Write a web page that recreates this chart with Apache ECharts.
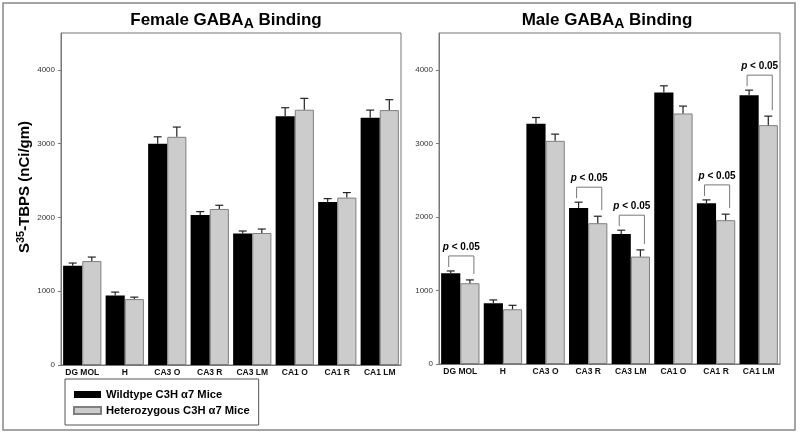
<!DOCTYPE html>
<html>
<head>
<meta charset="utf-8">
<script src="https://cdn.jsdelivr.net/npm/echarts@6/dist/echarts.min.js"></script>
<style>html,body{margin:0;padding:0;background:#fff}#c{width:800px;height:435px}</style>
</head>
<body>
<div id="c"></div>
<script>
const categories = ['DG MOL','H','CA3 O','CA3 R','CA3 LM','CA1 O','CA1 R','CA1 LM'];
const yTicks = [0, 1000, 2000, 3000, 4000];
const seriesNames = ['Wildtype C3H \u03b17 Mice', 'Heterozygous C3H \u03b17 Mice'];
// Female
const femaleWT     = [1345, 942, 2998, 2033, 1784, 3370, 2210, 3351];
const femaleWTErr  = [37, 46, 95, 46, 32, 117, 45, 104];
const femaleHet    = [1409, 893, 3093, 2115, 1789, 3460, 2269, 3455];
const femaleHetErr = [54, 27, 132, 50, 54, 154, 68, 141];
// Male
const maleWT       = [1234, 826, 3265, 2122, 1769, 3691, 2186, 3655];
const maleWTErr    = [31, 45, 86, 78, 50, 91, 45, 68];
const maleHet      = [1098, 744, 3034, 1914, 1460, 3406, 1955, 3247];
const maleHetErr   = [45, 54, 91, 95, 91, 100, 82, 123];
const maleSignificant = [0, 3, 4, 6, 7];

const FONT = '"Liberation Sans", Arial, sans-serif';
const chart = echarts.init(document.getElementById('c'), null, {renderer: 'canvas'});

function errRows(wt, wtE, het, hetE) {
  return categories.map((c, i) => [i, wt[i], wt[i] + wtE[i], het[i], het[i] + hetE[i]]);
}
function barGeom(api, i) {
  const c = api.coord([i, 0]);
  const cw = api.size([1, 0])[0];
  const bw = cw * 0.9 / 2;
  return {cx: c[0], xb: c[0] - bw / 2, xg: c[0] + bw / 2};
}
function errRender(params, api) {
  const i = api.value(0);
  const g = barGeom(api, i);
  const yb0 = api.coord([i, api.value(1)])[1];
  const yb1 = api.coord([i, api.value(2)])[1];
  const yg0 = api.coord([i, api.value(3)])[1];
  const yg1 = api.coord([i, api.value(4)])[1];
  const st = {stroke: '#222', lineWidth: 1.2};
  const L = (x1, y1, x2, y2) => ({type: 'line', shape: {x1, y1, x2, y2}, style: st});
  return {type: 'group', children: [
    L(g.xb, yb0, g.xb, yb1), L(g.xb - 4, yb1, g.xb + 4, yb1),
    L(g.xg, yg0, g.xg, yg1), L(g.xg - 4, yg1, g.xg + 4, yg1)
  ]};
}
function sigRender(params, api) {
  const i = api.value(0);
  const g = barGeom(api, i);
  const yb1 = api.coord([i, api.value(1)])[1];
  const yg1 = api.coord([i, api.value(2)])[1];
  const yTop = yb1 - 15;
  const st = {stroke: '#777', lineWidth: 1};
  const xl = g.xb - 2, xr = g.xg + 4;
  return {type: 'group', children: [
    {type: 'polyline', shape: {points: [[xl, yb1 - 4], [xl, yTop], [xr, yTop], [xr, yg1 - 6]]}, style: Object.assign({fill: null}, st)},
    {type: 'text', x: g.cx + 1, y: yTop - 9, style: {
      text: '{i|p}{b| < 0.05}', align: 'center', verticalAlign: 'middle',
      rich: {
        i: {fontStyle: 'italic', fontWeight: 'bold', fontSize: 10, fontFamily: FONT, fill: '#000'},
        b: {fontWeight: 'bold', fontSize: 10, fontFamily: FONT, fill: '#000'}
      }
    }}
  ]};
}

const grids = [
  {left: 61, right: 399, top: 33, bottom: 70},
  {left: 439, right: 20, top: 33, bottom: 71}
];
const xAxes = grids.map((g, k) => ({
  type: 'category', gridIndex: k, data: categories,
  axisLine: {lineStyle: {color: '#777', width: 1}},
  axisTick: {show: false},
  axisLabel: {fontSize: 8.5, fontWeight: 'bold', color: '#111', fontFamily: FONT, margin: 3, interval: 0}
}));
const yAxes = grids.map((g, k) => ({
  type: 'value', gridIndex: k, min: yTicks[0], max: 4500, interval: 1000,
  axisLine: {show: true, lineStyle: {color: '#777'}},
  axisTick: {show: true, length: 3, lineStyle: {color: '#777'}},
  splitLine: {show: false},
  axisLabel: {fontSize: 8, color: '#333', fontFamily: FONT, margin: 6, showMaxLabel: false,
    formatter: v => (yTicks.indexOf(v) >= 0 ? String(v) : '')}
}));

const blackStyle = {color: '#000000'};
const grayStyle = {color: '#cccccc', borderColor: '#7f7f7f', borderWidth: 1};

function barSeries(k, wt, het) {
  return [
    {name: seriesNames[0], type: 'bar', xAxisIndex: k, yAxisIndex: k, data: wt,
     barGap: '0%', barCategoryGap: '10%', itemStyle: blackStyle, emphasis: {disabled: true}},
    {name: seriesNames[1], type: 'bar', xAxisIndex: k, yAxisIndex: k, data: het,
     barGap: '0%', barCategoryGap: '10%', itemStyle: grayStyle, emphasis: {disabled: true}}
  ];
}

const option = {
  animation: false,
  backgroundColor: '#ffffff',
  textStyle: {fontFamily: FONT},
  grid: grids.map(g => Object.assign({show: true, borderColor: '#777', borderWidth: 1, backgroundColor: 'transparent'}, g)),
  xAxis: xAxes,
  yAxis: yAxes,
  legend: {
    data: seriesNames, orient: 'vertical', left: 65, top: 379,
    itemWidth: 27, itemHeight: 7, itemGap: 5, icon: 'rect',
    padding: [10, 9, 9, 8], borderColor: '#555', borderWidth: 1,
    textStyle: {fontSize: 11.2, fontWeight: 'bold', color: '#000', fontFamily: FONT},
    selectedMode: false
  },
  series: [
    ...barSeries(0, femaleWT, femaleHet),
    ...barSeries(1, maleWT, maleHet),
    {type: 'custom', xAxisIndex: 0, yAxisIndex: 0, renderItem: errRender, z: 5,
     data: errRows(femaleWT, femaleWTErr, femaleHet, femaleHetErr), encode: {x: 0, y: [1, 2, 3, 4]}, silent: true},
    {type: 'custom', xAxisIndex: 1, yAxisIndex: 1, renderItem: errRender, z: 5,
     data: errRows(maleWT, maleWTErr, maleHet, maleHetErr), encode: {x: 0, y: [1, 2, 3, 4]}, silent: true},
    {type: 'custom', xAxisIndex: 1, yAxisIndex: 1, renderItem: sigRender, z: 6, silent: true,
     data: maleSignificant.map(i => [i, maleWT[i] + maleWTErr[i], maleHet[i] + maleHetErr[i]]),
     encode: {x: 0, y: [1, 2]}}
  ],
  graphic: [
    {type: 'rect', shape: {x: 3, y: 3, width: 792, height: 427}, style: {fill: null, stroke: '#888', lineWidth: 1.5}, silent: true},
    {type: 'text', x: 226, y: 20, style: {
      text: '{a|Female GABA}{s|A}{a| Binding}', align: 'center', verticalAlign: 'middle',
      rich: {a: {fontSize: 17, fontWeight: 'bold', fontFamily: FONT, fill: '#000'},
             s: {fontSize: 14, fontWeight: 'bold', fontFamily: FONT, fill: '#000', padding: [9, 0, 0, 0]}}
    }},
    {type: 'text', x: 607, y: 20, style: {
      text: '{a|Male GABA}{s|A}{a| Binding}', align: 'center', verticalAlign: 'middle',
      rich: {a: {fontSize: 17, fontWeight: 'bold', fontFamily: FONT, fill: '#000'},
             s: {fontSize: 14, fontWeight: 'bold', fontFamily: FONT, fill: '#000', padding: [9, 0, 0, 0]}}
    }},
    {type: 'text', x: 25, y: 187, rotation: Math.PI / 2, style: {
      text: '{a|S}{u|35}{a|-TBPS (nCi/gm)}', align: 'center', verticalAlign: 'middle',
      rich: {a: {fontSize: 15, fontWeight: 'bold', fontFamily: FONT, fill: '#000'},
             u: {fontSize: 11, fontWeight: 'bold', fontFamily: FONT, fill: '#000', padding: [0, 0, 9, 0]}}
    }}
  ]
};
chart.setOption(option);
</script>
</body>
</html>
